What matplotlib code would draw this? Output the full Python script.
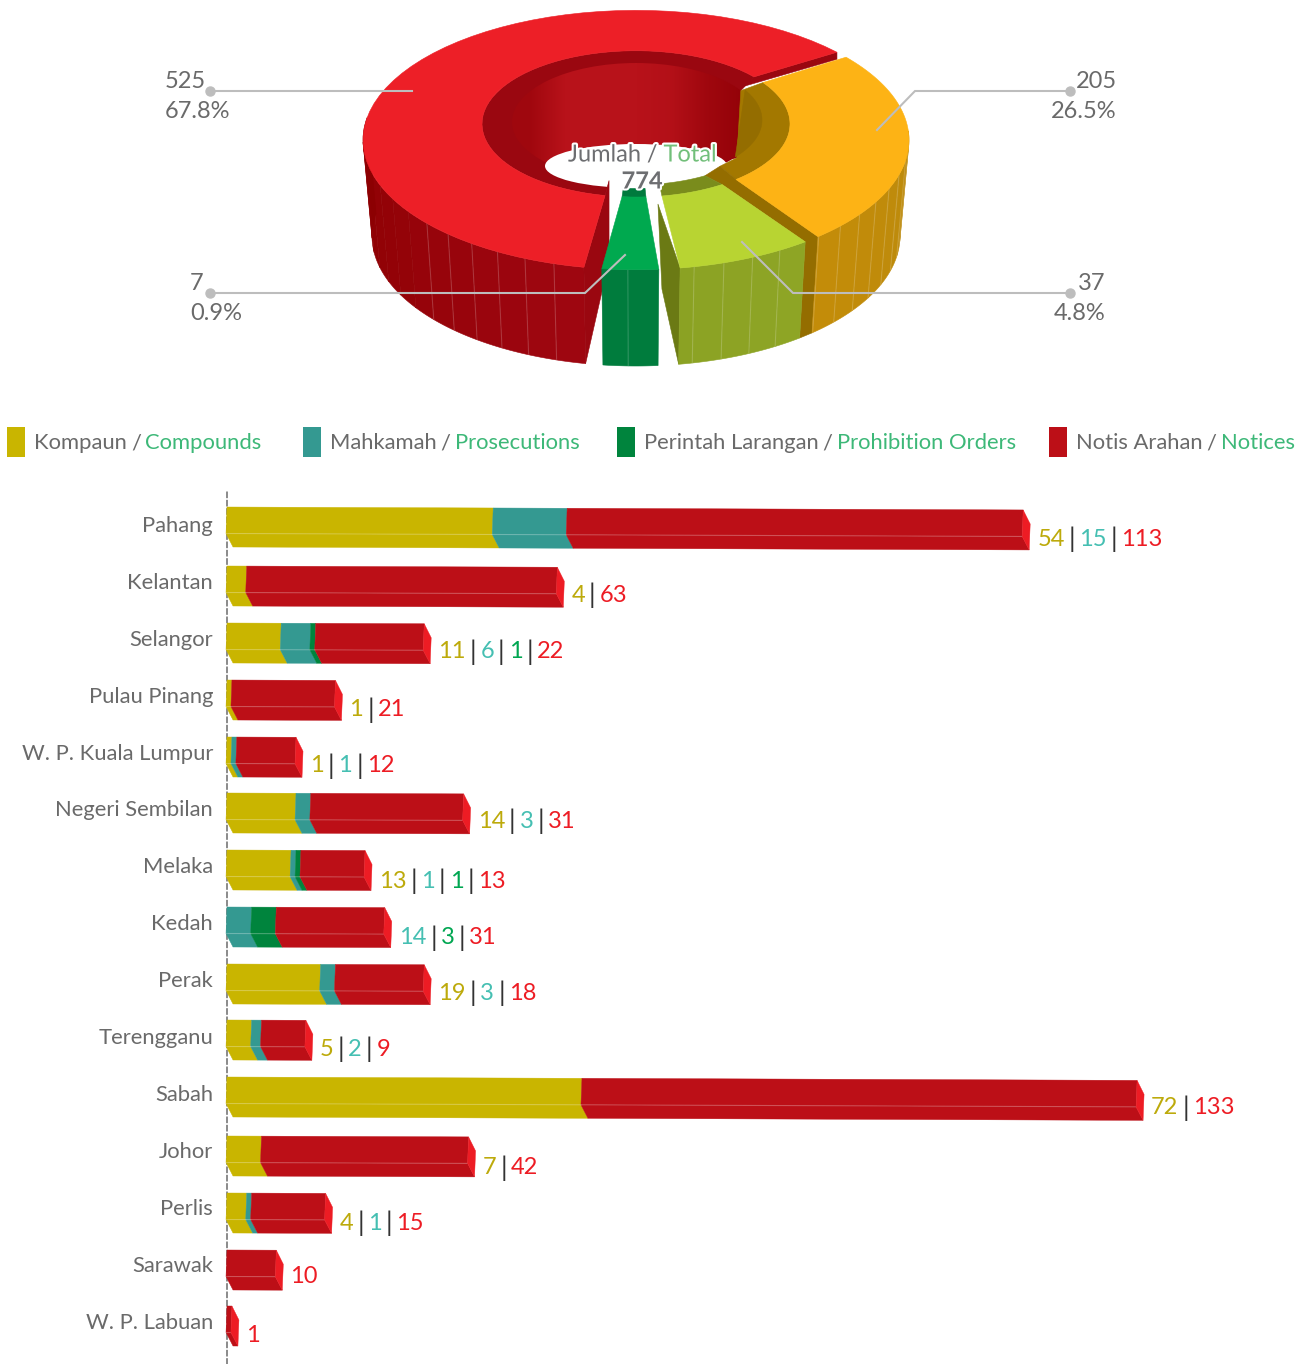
import numpy as np
import matplotlib
matplotlib.use('Agg')
import matplotlib.pyplot as plt
import matplotlib.patheffects as pe
from matplotlib.patches import Ellipse

plt.rcParams['font.family'] = ['Lato', 'DejaVu Sans']

# --- data ---
STATES = ['Pahang', 'Kelantan', 'Selangor', 'Pulau Pinang', 'W. P. Kuala Lumpur',
          'Negeri Sembilan', 'Melaka', 'Kedah', 'Perak', 'Terengganu', 'Sabah',
          'Johor', 'Perlis', 'Sarawak', 'W. P. Labuan']

# lengths the bars are drawn at in the picture
BAR_COMPOUNDS = [54, 4, 11, 1, 1, 14, 13, 0, 19, 5, 72, 7, 4, 0, 0]
BAR_PROSECUTIONS = [15, 0, 6, 0, 1, 3, 1, 5, 3, 2, 0, 0, 1, 0, 0]
BAR_ORDERS = [0, 0, 1, 0, 0, 0, 1, 5, 0, 0, 0, 0, 0, 0, 0]
BAR_NOTICES = [92.5, 63, 22, 21, 12, 31, 13, 22, 18, 9, 112.6, 42, 15, 10, 1]

# numbers printed next to the bars (they differ for Pahang, Kedah, Sabah)
LABEL_COMPOUNDS = [54, 4, 11, 1, 1, 14, 13, 0, 19, 5, 72, 7, 4, 0, 0]
LABEL_PROSECUTIONS = [15, 0, 6, 0, 1, 3, 1, 14, 3, 2, 0, 0, 1, 0, 0]
LABEL_ORDERS = [0, 0, 1, 0, 0, 0, 1, 3, 0, 0, 0, 0, 0, 0, 0]
LABEL_NOTICES = [113, 63, 22, 21, 12, 31, 13, 31, 18, 9, 133, 42, 15, 10, 1]

LEGEND_MS = ['Kompaun', 'Mahkamah', 'Perintah Larangan', 'Notis Arahan']
LEGEND_EN = ['Compounds', 'Prosecutions', 'Prohibition Orders', 'Notices']

PIE_VALUES = ['525', '205', '37', '7']
PIE_PERCENT = ['67.8%', '26.5%', '4.8%', '0.9%']
PIE_TOTAL = '774'

# slice angles as drawn, degrees clockwise from east: (outer start, outer end, inner start, inner end)
RED_ANGLES = (-42.6, -259.0, -40.0, -258.4)
YELLOW_ANGLES = (-39.7, 48.2, -34.4, 49.5)
LIME_ANGLES = (51.7, 80.7, 56.0, 80.3)
GREEN_ANGLES = (85.2, 97.2, 86.3, 95.2)

# --- style ---
C_YELLOW = '#C9B500'
C_TEAL = '#349991'
C_GREEN = '#00843D'
C_RED = '#BC0F17'
C_CAP = '#ED1C24'
SERIES_COLORS = [C_YELLOW, C_TEAL, C_GREEN, C_RED]
LABEL_COLORS = ['#BDAA0B', '#45BFB2', '#00A651', '#ED1C24']
C_TEXT = '#6A6A6A'
C_EN = '#3DB878'
FS = 17
FS_WORDS = 15.8

W, H = 1306, 1364
X0 = 227
SCALE = 4.93
ROW_TOP = 509.5
PITCH = 56.9
ROW_NUDGE = [-2.5, -.4, -.3, -.2, -.1, -1, -.9, -.8, -.7, -1.6, -1.5, .6, .7, .8, -.1]
LABEL_DROP = [30, 27, 27, 28, 27, 26, 29, 29, 27, 27, 29, 30, 28, 25, 27]

fig = plt.figure(figsize=(W / 100, H / 100), dpi=100)
ax = fig.add_axes([0, 0, 1, 1])
ax.set_axis_off()


def top(r, deg):
    """Point on the top face of the ring"""
    t = np.radians(deg)
    return 636 + r * np.cos(t), 103 + 0.1356 * r + 0.475 * r * np.sin(t)


def base(deg):
    """Point on the lower outer rim"""
    t = np.radians(deg)
    return 636 + 264 * np.cos(t), 236 + 130 * np.sin(t)


def arc(fn, a, b, *args):
    return [fn(*args, d) for d in np.linspace(a, b, 60)]


def poly(points, color, z=1):
    xs, ys = zip(*points)
    ax.fill(xs, ys, color=color, lw=0.4, zorder=z)


def wall(a, b, c1, c2, z, seams=99):
    """Outer wall split in facets, with the thin seams of the original"""
    edges = np.arange(a, b, 6.5).tolist() + [b]
    c1, c2 = np.array(matplotlib.colors.to_rgb(c1)), np.array(matplotlib.colors.to_rgb(c2))
    for i in range(len(edges) - 1):
        f = i / max(len(edges) - 2, 1)
        pts = arc(lambda d: top(273, d), edges[i], edges[i + 1]) + arc(base, edges[i + 1], edges[i])
        poly(pts, tuple(c1 + (c2 - c1) * f), z)
        if 0 < i < seams:
            x1, y1 = top(273, edges[i])
            x2, y2 = base(edges[i])
            ax.plot([x1, x2], [y1, y2], color='white', alpha=0.16, lw=0.8, zorder=z)


def top_face(angles, color, z):
    o1, o2, i1, i2 = angles
    pts = arc(lambda d: top(273, d), o1, o2) + arc(lambda d: top(154, d), i2, i1)
    poly(pts, color, z)


def rich(x, y, parts, gap, fs=FS, bar_fs=None):
    """Write coloured pieces one after another, returns the end x"""
    rend = fig.canvas.get_renderer()
    for s, c in parts:
        size = bar_fs if (s == '|' and bar_fs) else fs
        t = ax.text(x, y, s, color=c, fontsize=size, ha='left', va='center', zorder=20)
        x = x + t.get_window_extent(rend).width + gap
    return x


# --- doughnut ---
# back of the hole
band = arc(lambda d: top(154, d), -40, -258.4) + [(609, 182), top(128, 38), top(121, -30)]
poly(band, '#9A0710', 1)
strip = np.array([[0.62, 0.72, 0.72, 0.72, 0.70, 0.62, 0.57]])
cm = matplotlib.colors.LinearSegmentedColormap.from_list('wall', ['#8F0006', '#B8121A'])
img = ax.imshow(strip, cmap=cm, vmin=0.55, vmax=0.72, extent=(512, 760, 190, 60),
                aspect='auto', interpolation='bilinear', zorder=2)
hole = Ellipse((636, 122), 248, 118, transform=ax.transData, fc='none', ec='none')
ax.add_patch(hole)
img.set_clip_path(hole)
ax.add_patch(Ellipse((636, 166), 182, 44, fc='white', ec='none', zorder=3))

# red
wall(RED_ANGLES[1] + 360, 190, '#9E0610', '#8C0002', 4, seams=7)
cx, cy = top(154, RED_ANGLES[3])
poly([(cx, cy), top(273, RED_ANGLES[1]), base(RED_ANGLES[1]), (cx + 4, cy + 65), (cx + 4, cy - 15)], '#9A0710', 5)
top_face(RED_ANGLES, '#ED1F27', 6)
ux, uy = top(273, RED_ANGLES[0])
vx, vy = top(154, RED_ANGLES[2])
poly([(ux, uy), (ux, uy + 7), (vx - 12, vy + 10), (vx, vy)], '#9A0710', 5)

# yellow
poly(arc(lambda d: top(154, d), YELLOW_ANGLES[2], YELLOW_ANGLES[3]) + [top(128, 49), top(128, 38), top(121, -30)], '#A37800', 7)
poly(arc(lambda d: top(126, d), -30, 38), '#946D00', 7)
poly([top(128, 49), top(154, YELLOW_ANGLES[3]), top(273, YELLOW_ANGLES[1]), base(YELLOW_ANGLES[1]),
      base(YELLOW_ANGLES[1] + 3.5), top(273, LIME_ANGLES[0]), top(154, LIME_ANGLES[2]), top(134, 59)], '#946D00', 7)
wall(-4, YELLOW_ANGLES[1], '#BC8A0C', '#C48C08', 7)
top_face(YELLOW_ANGLES, '#FDB315', 8)

# lime
poly(arc(lambda d: top(154, d), LIME_ANGLES[2], LIME_ANGLES[3]) + arc(lambda d: top(134, d), 80, 59), '#7A8C1C', 9)
lx, ly = top(154, LIME_ANGLES[3])
poly([(lx - 4, ly + 8), top(273, LIME_ANGLES[1]), base(LIME_ANGLES[1]), (lx, ly + 93)], '#6B7A14', 9)
wall(LIME_ANGLES[0], LIME_ANGLES[1], '#8EA525', '#8BA223', 9)
top_face(LIME_ANGLES, '#B8D432', 10)

# green
poly(arc(lambda d: top(154, d), GREEN_ANGLES[2], GREEN_ANGLES[3]) + arc(lambda d: top(140, d), GREEN_ANGLES[3], GREEN_ANGLES[2]), '#007A3D', 11)
wall(GREEN_ANGLES[0], GREEN_ANGLES[1], '#007C3D', '#007C3D', 11)
top_face(GREEN_ANGLES, '#00A94F', 12)

# leaders and labels
LEADERS = [[(210, 91), (412, 91)],
           [(1070, 91), (915, 91), (877, 130)],
           [(1070, 293), (793, 293), (742, 242)],
           [(210, 293), (585, 293), (625, 255)]]
for line in LEADERS:
    xs, ys = zip(*line)
    ax.plot(xs, ys, color='#BDBDBD', lw=1.5, zorder=15, solid_joinstyle='miter')
    ax.plot(xs[0], ys[0], 'o', color='#BDBDBD', ms=6.5, zorder=15)

LABEL_POS = [(165, 81, 'left'), (1117, 81, 'right'), (1105, 283, 'right'), (190, 283, 'left')]
for (x, y, ha), v, p in zip(LABEL_POS, PIE_VALUES, PIE_PERCENT):
    ax.text(x, y, v, color=C_TEXT, fontsize=FS, ha=ha, va='center', zorder=20)
    ax.text(x, y + 30, p, color=C_TEXT, fontsize=FS, ha=ha, va='center', zorder=20)

glow = [pe.withStroke(linewidth=3, foreground='white')]
rend = fig.canvas.get_renderer()
x = 568
for s, c in [('Jumlah', '#6D6E71'), ('/', '#6D6E71'), ('Total', '#72BF7A')]:
    t = ax.text(x, 155, s, color=c, fontsize=FS, ha='left', va='center', zorder=20, path_effects=glow)
    x = x + t.get_window_extent(rend).width + 6
ax.text(642, 181, PIE_TOTAL, color='#6D6E71', fontsize=FS, fontweight='bold', ha='center', va='center',
        zorder=20, path_effects=glow)

# --- legend ---
for lx, ms, en, c in zip([7, 303, 617, 1049], LEGEND_MS, LEGEND_EN, SERIES_COLORS):
    ax.fill_between([lx, lx + 18], 427, 457, color=c, lw=0, zorder=5)
    rich(lx + 27, 443, [(ms, C_TEXT), ('/', C_TEXT), (en, C_EN)], 4, fs=FS_WORDS)

ax.set_xlim(0, W)
ax.set_ylim(H, 0)

# --- bars ---
bx = fig.add_axes([X0 / W, 0, (W - X0) / W, (H - 490) / H], facecolor='none')
bx.set_xlim(0, (W - X0) / SCALE)
bx.set_ylim((H - ROW_TOP) / PITCH, (490 - ROW_TOP) / PITCH)
for side in ['top', 'right', 'bottom']:
    bx.spines[side].set_visible(False)
bx.spines['left'].set_linestyle((0, (3, 2)))
bx.spines['left'].set_color('#777777')
bx.spines['left'].set_linewidth(1.2)
bx.set_xticks([])
bx.set_yticks(np.arange(len(STATES)) + 14.5 / PITCH)
bx.set_yticklabels(STATES, fontsize=FS_WORDS, color=C_TEXT)
bx.tick_params(axis='y', length=0, pad=10)

px = 1 / SCALE
rows = 1 / PITCH
SLOPE = 0.0037 * SCALE * rows


def bar_face(row, a, b, color):
    t = row + ROW_NUDGE[row] * rows
    ta, tb = t + a * SLOPE, t + b * SLOPE
    dm, de = 26.5 * rows, 40 * rows
    bx.fill([a, b, b - px, a - px], [ta, tb, tb + dm, ta + dm], color=color, lw=0.3, clip_on=False, zorder=3)
    bx.fill([a - px, b - px, b + 6 * px, a + 6 * px], [ta + dm, tb + dm, tb + de, ta + de],
            color=color, lw=0.3, clip_on=False, zorder=3)
    bx.plot([a - px, b - px], [ta + dm, tb + dm], color='white', alpha=0.22, lw=0.8, clip_on=False, zorder=4)


def bar_cap(row, b):
    t = row + ROW_NUDGE[row] * rows + b * SLOPE
    bx.fill([b, b + 7 * px, b + 6 * px, b - px], [t, t + 14 * rows, t + 40 * rows, t + 26.5 * rows],
            color=C_CAP, lw=0.3, clip_on=False, zorder=4)


drawn = np.array([BAR_COMPOUNDS, BAR_PROSECUTIONS, BAR_ORDERS, BAR_NOTICES], dtype=float)
printed = [LABEL_COMPOUNDS, LABEL_PROSECUTIONS, LABEL_ORDERS, LABEL_NOTICES]
for row in range(len(STATES)):
    left = 0.0
    for s, color in enumerate(SERIES_COLORS):
        w = drawn[s][row]
        if w > 0:
            bar_face(row, left, left + w, color)
            left += w
    bar_cap(row, left)
    parts = []
    for s in range(4):
        if printed[s][row] > 0:
            if parts:
                parts.append(('|', '#333333'))
            parts.append((str(printed[s][row]), LABEL_COLORS[s]))
    y = ROW_TOP + PITCH * row + ROW_NUDGE[row] + LABEL_DROP[row] + 2
    rich(X0 + left * SCALE + 14, y, parts, 4, bar_fs=19)

fig.savefig('out.png', dpi=100)
